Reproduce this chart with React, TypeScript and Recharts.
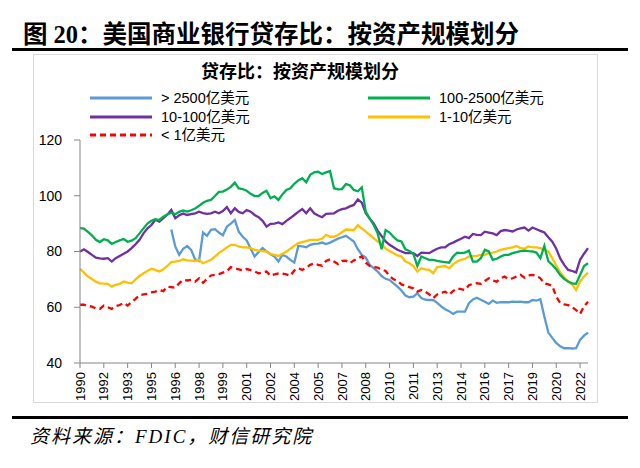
import { Line, LineChart, XAxis, YAxis } from "recharts";

// quarterly, 1990Q4 .. 2022Q4
const quarters: string[] = [];
for (let y = 1990; y <= 2022; y++) {
	for (let q = 1; q <= 4; q++) {
		if (y === 1990 && q < 4) continue;
		quarters.push(`${y}Q${q}`);
	}
}

const seriesNames = [
	"> 2500亿美元",
	"10-100亿美元",
	"< 1亿美元",
	"100-2500亿美元",
	"1-10亿美元",
];

const over2500 = [
	null, null, null, null, null, null, null, null, null, null,
	null, null, null, null, null, null, null, null, null, null,
	null, null, null, 87.9, 81.8, 78.8, 81.0, 82.0, 80.6, 77.2,
	76.6, 86.8, 85.6, 87.8, 88.0, 86.8, 85.8, 88.9, 90.0, 91.3,
	87.1, 85.3, 84.0, 81.0, 78.2, 79.8, 81.2, 80.0, 79.0, 78.2,
	76.4, 78.8, 78.2, 77.0, 76.0, 82.0, 81.8, 81.5, 82.4, 82.7,
	82.8, 83.2, 82.7, 83.2, 83.9, 84.6, 85.1, 85.6, 84.6, 83.6,
	80.8, 78.8, 77.8, 75.2, 74.0, 72.8, 71.2, 70.2, 69.8, 68.6,
	67.4, 66.0, 64.2, 63.6, 63.8, 65.0, 63.3, 62.7, 62.6, 62.6,
	61.6, 60.3, 59.3, 58.6, 57.6, 58.4, 58.4, 58.4, 61.5, 62.8,
	63.4, 62.7, 62.0, 61.2, 62.4, 61.6, 61.8, 61.8, 61.8, 62.0,
	61.9, 62.0, 61.8, 61.8, 62.6, 62.4, 62.9, 56.7, 50.9, 49.0,
	47.2, 46.0, 45.3, 45.3, 45.2, 45.3, 48.3, 49.8, 50.9,
];

const from100to2500 = [
	88.4, 88.2, 87.0, 85.8, 84.2, 83.4, 84.4, 84.0, 82.7, 83.4,
	84.0, 84.5, 83.5, 83.9, 84.8, 86.5, 88.3, 90.0, 91.0, 91.6,
	91.3, 92.5, 93.3, 93.9, 93.4, 94.2, 94.7, 94.3, 94.8, 95.4,
	96.4, 97.5, 98.2, 98.5, 99.9, 101.4, 101.5, 102.2, 103.2, 104.7,
	102.6, 102.4, 101.8, 100.7, 99.9, 99.9, 101.0, 101.8, 99.1, 99.8,
	98.5, 100.5, 102.1, 102.7, 104.3, 105.5, 106.3, 104.8, 107.5, 108.4,
	108.6, 107.8, 108.4, 108.9, 102.7, 102.3, 102.4, 104.2, 103.8, 102.1,
	101.6, 103.0, 94.3, 91.8, 89.5, 86.5, 80.8, 87.7, 86.8, 85.2,
	84.0, 83.6, 80.8, 80.2, 79.1, 74.8, 78.2, 77.6, 77.0, 77.0,
	76.6, 76.4, 76.2, 76.0, 78.2, 79.6, 79.4, 79.6, 80.3, 76.4,
	76.4, 77.6, 80.6, 80.0, 77.0, 77.4, 78.2, 78.8, 78.8, 79.4,
	79.8, 80.1, 80.3, 80.1, 80.0, 79.6, 77.6, 82.0, 76.5, 75.2,
	73.6, 71.6, 70.2, 69.2, 68.6, 68.4, 71.6, 74.8, 75.8,
];

const from10to100 = [
	80.0, 80.8, 79.8, 78.8, 77.8, 77.5, 77.4, 77.6, 76.4, 77.6,
	78.4, 79.2, 80.0, 81.2, 82.6, 84.2, 86.5, 88.3, 89.5, 91.4,
	90.7, 92.0, 93.2, 94.9, 91.9, 93.0, 93.6, 93.1, 93.4, 93.7,
	94.3, 93.8, 93.5, 93.7, 94.3, 93.7, 94.5, 95.9, 93.7, 95.5,
	94.2, 93.7, 94.9, 94.3, 93.1, 92.3, 91.0, 88.9, 89.9, 90.0,
	90.4, 89.8, 91.0, 92.0, 93.1, 94.2, 95.2, 93.7, 95.5, 93.7,
	92.9, 92.3, 93.5, 93.6, 93.7, 94.6, 95.2, 95.5, 96.2, 96.7,
	98.7, 97.5, 93.7, 91.8, 90.1, 87.5, 85.5, 83.6, 82.4, 81.5,
	80.6, 80.0, 79.4, 79.4, 79.4, 78.4, 79.6, 79.5, 79.4, 80.3,
	81.0, 81.5, 81.5, 82.6, 83.2, 83.9, 84.6, 85.3, 84.8, 86.3,
	86.0, 85.9, 87.1, 86.8, 86.5, 85.9, 87.3, 87.7, 87.5, 87.2,
	87.9, 88.3, 88.6, 87.5, 88.6, 88.0, 87.4, 86.8, 85.1, 83.5,
	81.0, 77.5, 75.2, 73.4, 73.0, 72.5, 77.0, 79.2, 81.2,
];

const from1to10 = [
	73.8, 72.4, 71.0, 70.1, 69.2, 68.6, 68.5, 68.4, 67.4, 68.0,
	68.4, 69.2, 68.8, 68.6, 70.0, 71.2, 72.2, 73.0, 73.8, 73.4,
	72.8, 73.6, 74.8, 76.2, 76.4, 76.6, 77.2, 76.8, 76.7, 76.6,
	77.0, 75.8, 76.4, 77.0, 78.2, 79.5, 80.4, 81.5, 82.4, 82.4,
	81.8, 81.5, 81.5, 81.2, 80.6, 80.3, 80.1, 80.0, 79.1, 78.8,
	78.4, 79.2, 79.9, 81.0, 82.0, 83.0, 83.4, 83.7, 84.2, 84.2,
	84.2, 84.6, 86.0, 85.3, 85.3, 85.9, 86.9, 87.9, 87.8, 87.7,
	89.5, 88.3, 87.1, 86.0, 84.8, 83.6, 82.6, 81.0, 80.2, 79.4,
	78.6, 78.2, 76.4, 75.8, 74.8, 72.8, 74.0, 73.6, 73.4, 72.2,
	74.4, 74.6, 74.8, 74.0, 75.4, 76.4, 77.0, 77.4, 78.2, 78.3,
	78.4, 78.8, 78.8, 79.4, 79.6, 80.0, 80.6, 80.9, 81.2, 81.5,
	82.0, 81.2, 81.0, 81.8, 81.5, 81.5, 81.2, 80.6, 80.0, 77.6,
	75.0, 72.5, 70.8, 69.2, 68.2, 66.2, 69.2, 71.0, 72.4,
];

const under1 = [
	60.9, 60.9, 60.5, 60.2, 59.6, 59.4, 60.6, 60.0, 59.4, 60.4,
	60.8, 61.5, 60.6, 61.8, 63.0, 64.3, 64.6, 64.8, 65.3, 65.6,
	66.2, 65.8, 67.4, 67.2, 67.0, 68.6, 69.8, 69.6, 69.8, 69.2,
	70.4, 68.8, 70.2, 71.4, 71.6, 71.9, 72.4, 72.9, 74.4, 74.0,
	73.6, 73.2, 73.7, 73.3, 72.8, 72.2, 72.5, 72.8, 71.3, 71.8,
	72.1, 72.1, 71.8, 71.3, 73.2, 74.0, 73.4, 74.2, 75.2, 75.8,
	75.2, 74.9, 76.6, 77.2, 76.4, 75.5, 76.6, 76.7, 75.8, 76.8,
	77.6, 78.2, 76.0, 74.8, 74.4, 74.2, 73.6, 73.0, 71.2, 70.0,
	69.4, 68.2, 67.7, 67.2, 66.8, 65.6, 66.2, 65.6, 64.6, 63.3,
	64.6, 65.2, 65.6, 64.5, 65.8, 66.8, 66.5, 66.2, 67.9, 68.4,
	68.6, 68.4, 69.4, 70.4, 69.6, 69.2, 70.4, 71.0, 70.1, 70.4,
	71.0, 71.6, 70.6, 71.4, 71.6, 71.3, 70.4, 68.6, 68.2, 67.7,
	63.8, 61.5, 61.0, 60.8, 60.1, 59.0, 57.6, 60.3, 62.0,
];

const yTicks = [40, 60, 80, 100, 120];

const COLORS = {
	a: "#5B9BD5",
	b: "#7030A0",
	c: "#FF0000",
	d: "#00B050",
	e: "#FFC000",
};

const data = quarters.map((q, i) => ({
	q,
	a: over2500[i],
	b: from10to100[i],
	c: under1[i],
	d: from100to2500[i],
	e: from1to10[i],
}));

const SANS = "'Liberation Sans', 'Noto Sans CJK SC', sans-serif";
const SERIF = "'Liberation Serif', 'Noto Sans CJK SC', serif";

function YearTick({ x, y, payload }: any) {
	return (
		<g transform={`translate(${x},${y})`}>
			<text
				transform="rotate(-90)"
				x={-2}
				dy="0.35em"
				textAnchor="end"
				fontSize={13}
				fontFamily={SANS}
				fill="#000"
			>
				{String(payload.value).slice(0, 4)}
			</text>
		</g>
	);
}

function LegendBox() {
	const rows = [
		{ key: "a", name: seriesNames[0], x: 90, y: 98 },
		{ key: "d", name: seriesNames[3], x: 368, y: 98 },
		{ key: "b", name: seriesNames[1], x: 90, y: 117 },
		{ key: "e", name: seriesNames[4], x: 368, y: 117 },
		{ key: "c", name: seriesNames[2], x: 90, y: 135 },
	];
	return (
		<svg width={640} height={160} style={{ position: "absolute", left: 0, top: 0 }}>
			{rows.map((r) => (
				<g key={r.key}>
					<line
						x1={r.x}
						x2={r.x + 62}
						y1={r.y}
						y2={r.y}
						stroke={COLORS[r.key as keyof typeof COLORS]}
						strokeWidth={3}
						strokeDasharray={r.key === "c" ? "6 4" : undefined}
					/>
					<text
						x={r.x + 71}
						y={r.y}
						dy="0.35em"
						fontSize={14.5}
						fontFamily={SANS}
						fill="#000"
					>
						{r.name}
					</text>
				</g>
			))}
		</svg>
	);
}

export default function App() {
	return (
		<div
			style={{
				position: "absolute",
				left: 0,
				top: 0,
				width: 640,
				height: 468,
				background: "#fff",
				overflow: "hidden",
			}}
		>
			<div
				style={{
					position: "absolute",
					left: 23,
					top: 20,
					fontSize: 24.5,
					lineHeight: "30px",
					fontWeight: "bold",
					fontFamily: SERIF,
					whiteSpace: "nowrap",
				}}
			>
				图 20：美国商业银行贷存比：按资产规模划分
			</div>
			<div
				style={{
					position: "absolute",
					left: 12,
					top: 48,
					width: 616,
					height: 3,
					background: "#000",
				}}
			/>
			<div
				style={{
					position: "absolute",
					left: 33,
					top: 54,
					width: 563,
					height: 347,
					border: "1px solid #d9d9d9",
				}}
			/>
			<div
				style={{
					position: "absolute",
					left: 0,
					width: 600,
					top: 61,
					textAlign: "center",
					fontSize: 18,
					lineHeight: "22px",
					fontWeight: "bold",
					fontFamily: SANS,
				}}
			>
				贷存比：按资产规模划分
			</div>
			<LegendBox />
			<div style={{ position: "absolute", left: 0, top: 0 }}>
				<LineChart
					width={640}
					height={468}
					data={data}
					margin={{ top: 140, right: 52, bottom: 60, left: 0 }}
				>
					<XAxis
						dataKey="q"
						interval={5}
						height={45}
						tickSize={5}
						tickMargin={2}
						stroke="#868686"
						tick={<YearTick />}
					/>
					<YAxis
						domain={[40, 120]}
						ticks={yTicks}
						width={80}
						tickSize={6}
						tickMargin={12}
						stroke="#868686"
						tick={{ fill: "#000", fontSize: 14, fontFamily: SANS }}
					/>
					<Line
						dataKey="a"
						name={seriesNames[0]}
						stroke={COLORS.a}
						strokeWidth={2.3}
						dot={false}
						isAnimationActive={false}
					/>
					<Line
						dataKey="e"
						name={seriesNames[4]}
						stroke={COLORS.e}
						strokeWidth={2.3}
						dot={false}
						isAnimationActive={false}
					/>
					<Line
						dataKey="b"
						name={seriesNames[1]}
						stroke={COLORS.b}
						strokeWidth={2.3}
						dot={false}
						isAnimationActive={false}
					/>
					<Line
						dataKey="d"
						name={seriesNames[3]}
						stroke={COLORS.d}
						strokeWidth={2.3}
						dot={false}
						isAnimationActive={false}
					/>
					<Line
						dataKey="c"
						name={seriesNames[2]}
						stroke={COLORS.c}
						strokeWidth={2.3}
						strokeDasharray="6 4"
						dot={false}
						isAnimationActive={false}
					/>
				</LineChart>
			</div>
			<div
				style={{
					position: "absolute",
					left: 12,
					top: 416,
					width: 616,
					height: 3,
					background: "#000",
				}}
			/>
			<div
				style={{
					position: "absolute",
					left: 30,
					top: 424,
					fontSize: 19,
					lineHeight: "26px",
					letterSpacing: 2,
					fontStyle: "italic",
					fontFamily: SERIF,
					whiteSpace: "nowrap",
				}}
			>
				资料来源：FDIC，财信研究院
			</div>
		</div>
	);
}
